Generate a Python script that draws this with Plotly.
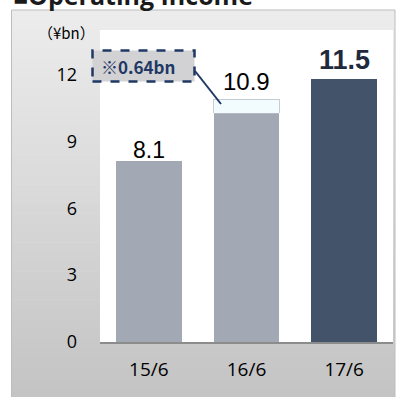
import plotly.graph_objects as go

# ---- data ----
categories = ["15/6", "16/6", "17/6"]
bar_values = [8.1, 10.26, 11.8]          # bar heights as drawn
extra_values = [None, 0.64, None]        # highlighted increment (16/6)
label_texts = ["8.1", "10.9", "11.5"]
y_ticks = [0, 3, 6, 9, 12]
unit_label = "（¥bn）"
callout_text = "※0.64bn"
title_text = "■Operating Income"

W, H = 399, 397
ML, MR, MT, MB = 100, 6, 30, 55
PW, PH = W - ML - MR, H - MT - MB

def px(x):  # pixel x -> paper
    return (x - ML) / PW

def py(y):  # pixel y -> paper
    return (H - MB - y) / PH

fig = go.Figure()

gray_colors = ["#a2a9b4", "#a2a9b4", "#435369"]
fig.add_trace(go.Bar(
    x=categories, y=bar_values, width=0.675,
    marker=dict(color=gray_colors, line=dict(width=0)),
    hoverinfo="skip", showlegend=False))
fig.add_trace(go.Bar(
    x=categories, y=extra_values, width=0.675,
    marker=dict(color="#f2fcff", line=dict(width=0.8, color="#b8c0c8")),
    hoverinfo="skip", showlegend=False))

shapes = []
# panel gradient background
n = 40
top_y, bot_y = 10, H
c0, c1 = (236, 236, 236), (196, 196, 196)
for i in range(n):
    t = i / (n - 1)
    c = tuple(round(c0[k] + (c1[k] - c0[k]) * t) for k in range(3))
    y0 = top_y + (bot_y - top_y) * i / n
    y1 = top_y + (bot_y - top_y) * (i + 1) / n + 0.6
    shapes.append(dict(type="rect", xref="paper", yref="paper", layer="below",
                       x0=px(11), x1=px(395), y0=py(y1), y1=py(y0),
                       fillcolor="rgb(%d,%d,%d)" % c, line=dict(width=0)))
# panel border
shapes.append(dict(type="rect", xref="paper", yref="paper", layer="below",
                   x0=px(11.5), x1=px(395), y0=py(H + 2), y1=py(10),
                   fillcolor="rgba(0,0,0,0)", line=dict(width=1, color="#bdbdbd")))
# white plot area
shapes.append(dict(type="rect", xref="paper", yref="paper", layer="below",
                   x0=0, x1=1, y0=0, y1=1, fillcolor="white", line=dict(width=0)))
# callout box
shapes.append(dict(type="rect", xref="paper", yref="paper", layer="above",
                   x0=px(92.5), x1=px(194.5), y0=py(81.5), y1=py(50.5),
                   fillcolor="#d2d2d4", line=dict(width=2.5, color="#1f3864", dash="dash")))
# leader line
shapes.append(dict(type="line", xref="paper", yref="paper", layer="above",
                   x0=px(195), y0=py(71), x1=px(221), y1=py(104),
                   line=dict(width=2, color="#1f3864")))

annotations = []
label_fonts = [dict(size=23, color="black", family="Liberation Sans, Arial"),
               dict(size=24, color="black", family="Liberation Sans, Arial"),
               dict(size=27, color="#1f2b3d", family="Liberation Sans, Arial")]
label_text_fmt = ["{}", "{}", "<b>{}</b>"]
label_shift = [0, 6, 6]
total = [b + (e or 0) for b, e in zip(bar_values, extra_values)]
for i, c in enumerate(categories):
    annotations.append(dict(x=c, y=total[i], xref="x", yref="y",
                            text=label_text_fmt[i].format(label_texts[i]),
                            showarrow=False, xanchor="center", yanchor="bottom",
                            yshift=label_shift[i] - 4, font=label_fonts[i]))
annotations.append(dict(x=px(138), y=py(66), xref="paper", yref="paper",
                        xanchor="center", yanchor="middle",
                        text="<b>" + callout_text + "</b>", showarrow=False,
                        font=dict(size=17, color="#1f3864", family="Noto Sans CJK JP")))
annotations.append(dict(x=px(66), y=py(33), xref="paper", yref="paper",
                        xanchor="center", yanchor="middle",
                        text=unit_label, showarrow=False,
                        font=dict(size=15, color="black", family="Noto Sans CJK JP")))
annotations.append(dict(x=px(11), y=py(-5), xref="paper", yref="paper",
                        xanchor="left", yanchor="middle",
                        text="<b>" + title_text + "</b>", showarrow=False,
                        font=dict(size=25, color="#1a1a1a", family="Open Sans")))

fig.update_layout(
    width=W, height=H,
    margin=dict(l=ML, r=MR, t=MT, b=MB),
    paper_bgcolor="white", plot_bgcolor="rgba(0,0,0,0)",
    barmode="stack", bargap=0.3,
    shapes=shapes, annotations=annotations,
    showlegend=False,
)
fig.update_xaxes(showline=True, linecolor="#8c8c8c", linewidth=2,
                 showgrid=False, ticks="", tickfont=dict(size=19, color="black", family="Open Sans"),
                 ticklabelstandoff=9, fixedrange=True)
fig.update_yaxes(range=[0, 14], tickvals=y_ticks, showgrid=False, zeroline=False,
                 showline=False, ticks="", tickfont=dict(size=18, color="black", family="Open Sans"),
                 ticklabelstandoff=22, fixedrange=True)

fig.write_html("out.html", config={"displayModeBar": False},
               post_script="document.body.style.margin='0';document.body.style.overflow='hidden';")
